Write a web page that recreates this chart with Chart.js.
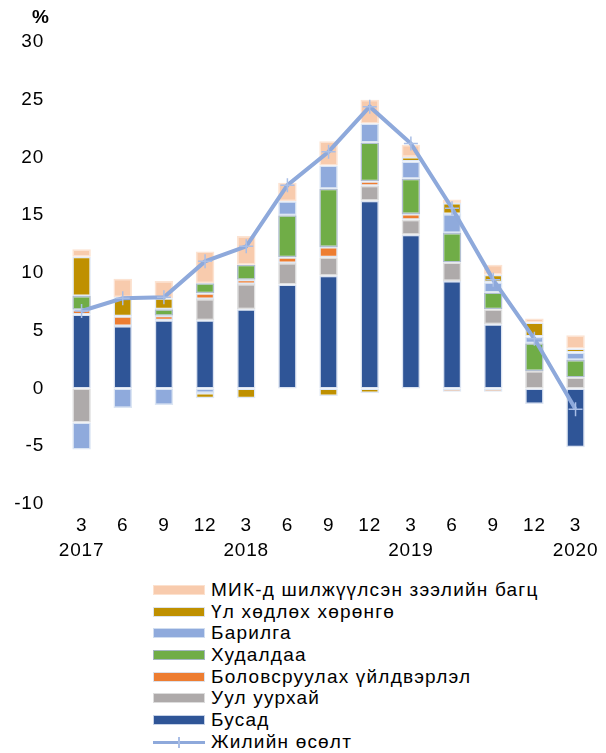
<!DOCTYPE html>
<html>
<head>
<meta charset="utf-8">
<script src="https://cdn.jsdelivr.net/npm/chart.js@4.4.1/dist/chart.umd.min.js"></script>
<style>
  body { margin: 0; background: #fff; font-family: "Liberation Sans", Arial, sans-serif; }
  #wrap { position: relative; width: 606px; height: 753px; }
  #chart { position: absolute; left: 0; top: 0; }
  #unit { position: absolute; left: 32px; top: 6px; font-weight: bold; font-size: 19px; color: #000; }
  #legend { position: absolute; left: 153px; top: 579px; }
  .item { display: flex; align-items: center; height: 21.7px; font-size: 19px; letter-spacing: 1.2px; color: #000; white-space: nowrap; }
  .swatch { width: 52px; height: 10px; margin-right: 6px; box-sizing: border-box; position: relative; }
  .swatch .ln { position: absolute; left: 0; right: 0; top: 4px; height: 3px; }
  .swatch .tk { position: absolute; left: 25px; top: 0; width: 1.5px; height: 11px; }
</style>
</head>
<body>
<div id="wrap">
  <canvas id="chart" width="606" height="574"></canvas>
  <div id="unit">%</div>
  <div id="legend"></div>
</div>
<script>
const months = ["3", "6", "9", "12", "3", "6", "9", "12", "3", "6", "9", "12", "3"];
const years = ["2017", "", "", "", "2018", "", "", "", "2019", "", "", "", "2020"];

// stacked contributions, percentage points
const busad = [6.4, 5.4, 5.9, 5.9, 6.85, 9.0, 9.75, 16.25, 13.3, 9.3, 5.55, -1.35, -5.1];
const uulUurhai = [-2.95, 0, 0, 1.85, 2.2, 1.85, 1.6, 1.3, 1.3, 1.6, 1.3, 1.5, 0.95];
const bolovsruulah = [0.4, 0.85, 0.4, 0.5, 0.35, 0.5, 0.9, 0.4, 0.5, -0.3, -0.3, 0, 0];
const hudaldaa = [1.2, 0, 0.55, 0.85, 1.3, 3.65, 5.05, 3.35, 3.05, 2.55, 1.45, 2.4, 1.5];
const barilga = [-2.35, -1.7, -1.45, -0.4, 0, 1.2, 2.0, 1.65, 1.5, 1.65, 0.9, 0.6, 0.65];
const ulHodloh = [3.4, 1.65, 0.95, -0.45, -0.85, 0, -0.65, -0.4, 0.4, 0.95, 0.65, 1.2, 0.35];
const mik = [0.65, 1.6, 1.5, 2.75, 2.5, 1.6, 2.1, 2.05, 1.05, 0.3, 0.85, 0.35, 1.15];
const growth = [6.7, 7.8, 7.9, 11.0, 12.3, 17.6, 20.5, 24.4, 21.2, 15.6, 9.4, 4.3, -1.8];

const labels = months.map((m, i) => [m, years[i]]);

function barSet(label, data, color, edge) {
  return {
    type: "bar",
    label: label,
    data: data,
    backgroundColor: color,
    borderColor: edge,
    borderWidth: 1.5,
    borderSkipped: false,
    stack: "s",
    barPercentage: 0.45,
    categoryPercentage: 1
  };
}

const datasets = [
  barSet("Бусад", busad, "#2F5597", "rgba(215,224,240,0.9)"),
  barSet("Уул уурхай", uulUurhai, "#AEAAAA", "rgba(222,222,222,0.95)"),
  barSet("Боловсруулах үйлдвэрлэл", bolovsruulah, "#ED7D31", "rgba(220,230,242,0.95)"),
  barSet("Худалдаа", hudaldaa, "#70AD47", "rgba(170,184,205,0.9)"),
  barSet("Барилга", barilga, "#8FAADC", "rgba(215,226,242,0.9)"),
  barSet("Үл хөдлөх хөрөнгө", ulHodloh, "#BF9000", "rgba(222,232,245,0.95)"),
  barSet("МИК-д шилжүүлсэн зээлийн багц", mik, "#F8CBAD", "rgba(252,225,208,0.95)"),
  {
    type: "line",
    label: "Жилийн өсөлт",
    data: growth,
    borderColor: "#8EA9DB",
    borderWidth: 4,
    pointStyle: "cross",
    pointRadius: 7,
    pointBorderColor: "#A9BEE6",
    pointBorderWidth: 1.5,
    pointBackgroundColor: "#A9BEE6",
    tension: 0,
    stack: "line",
    order: -1
  }
];

// the original's labels run a little wider than the font
const spacing = {
  id: "spacing",
  beforeDraw(chart) { chart.ctx.letterSpacing = "0.8px"; }
};

const chart = new Chart(document.getElementById("chart"), {
  data: { labels: labels, datasets: datasets },
  plugins: [spacing],
  options: {
    responsive: false,
    animation: false,
    layout: { padding: { top: 42, right: 4, bottom: 2, left: 0 } },
    plugins: {
      legend: { display: false },
      tooltip: { enabled: false }
    },
    scales: {
      x: {
        stacked: true,
        offset: true,
        grid: { display: false, drawTicks: false },
        border: { display: false },
        ticks: {
          color: "#000",
          padding: 9,
          maxRotation: 0,
          autoSkip: false,
          font: { family: "Liberation Sans", size: 19, lineHeight: 1.32 }
        }
      },
      y: {
        stacked: true,
        min: -10,
        max: 30,
        grid: { display: false, drawTicks: false },
        border: { display: false },
        afterFit: scale => { scale.width = 61; },
        ticks: {
          stepSize: 5,
          color: "#000",
          padding: 17,
          font: { family: "Liberation Sans", size: 19 }
        }
      }
    }
  }
});

// legend below the chart: bars top-down, then the line
const legendBox = document.getElementById("legend");
const legendOrder = datasets.slice(0, 7).reverse().concat(datasets[7]);
legendOrder.forEach(ds => {
  const row = document.createElement("div");
  row.className = "item";
  const sw = document.createElement("div");
  sw.className = "swatch";
  if (ds.type === "line") {
    sw.innerHTML = `<div class="ln" style="background:${ds.borderColor}"></div>` +
      `<div class="tk" style="background:${ds.pointBorderColor}"></div>`;
  } else {
    sw.style.background = ds.backgroundColor;
    sw.style.border = "1.5px solid " + ds.borderColor;
  }
  const txt = document.createElement("span");
  txt.textContent = ds.label;
  row.appendChild(sw);
  row.appendChild(txt);
  legendBox.appendChild(row);
});
</script>
</body>
</html>
